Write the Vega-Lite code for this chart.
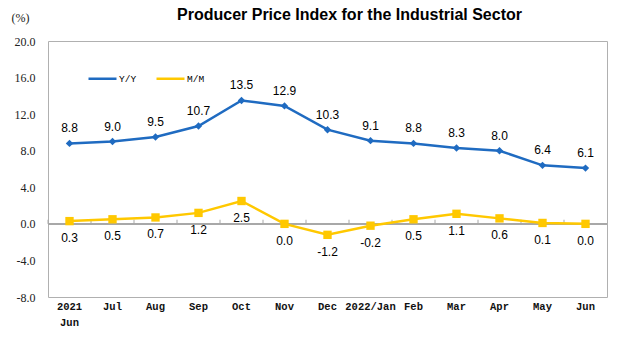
{
  "$schema": "https://vega.github.io/schema/vega-lite/v6.json",
  "width": 621,
  "height": 353,
  "autosize": {"type": "fit", "contains": "padding"},
  "padding": {"left": 11, "top": 7, "right": 13, "bottom": 25},
  "background": "white",
  "view": {"stroke": "#b0b0b0", "strokeWidth": 1},
  "title": {
    "text": "Producer Price Index for the Industrial Sector",
    "font": "Liberation Sans",
    "fontSize": 16,
    "fontWeight": "bold",
    "color": "#000000",
    "anchor": "middle",
    "dx": 22,
    "offset": -12
  },
  "config": {
    "locale": {"number": {"decimal": ".", "thousands": ",", "grouping": [3], "currency": ["$", ""], "minus": "-"}}
  },
  "data": {
    "values": [
      {"m": "2021|Jun", "s": "Y/Y", "v": 8.8}, {"m": "2021|Jun", "s": "M/M", "v": 0.3},
      {"m": "Jul", "s": "Y/Y", "v": 9.0}, {"m": "Jul", "s": "M/M", "v": 0.5},
      {"m": "Aug", "s": "Y/Y", "v": 9.5}, {"m": "Aug", "s": "M/M", "v": 0.7},
      {"m": "Sep", "s": "Y/Y", "v": 10.7}, {"m": "Sep", "s": "M/M", "v": 1.2},
      {"m": "Oct", "s": "Y/Y", "v": 13.5}, {"m": "Oct", "s": "M/M", "v": 2.5},
      {"m": "Nov", "s": "Y/Y", "v": 12.9}, {"m": "Nov", "s": "M/M", "v": 0.0},
      {"m": "Dec", "s": "Y/Y", "v": 10.3}, {"m": "Dec", "s": "M/M", "v": -1.2},
      {"m": "2022/Jan", "s": "Y/Y", "v": 9.1}, {"m": "2022/Jan", "s": "M/M", "v": -0.2},
      {"m": "Feb", "s": "Y/Y", "v": 8.8}, {"m": "Feb", "s": "M/M", "v": 0.5},
      {"m": "Mar", "s": "Y/Y", "v": 8.3}, {"m": "Mar", "s": "M/M", "v": 1.1},
      {"m": "Apr", "s": "Y/Y", "v": 8.0}, {"m": "Apr", "s": "M/M", "v": 0.6},
      {"m": "May", "s": "Y/Y", "v": 6.4}, {"m": "May", "s": "M/M", "v": 0.1},
      {"m": "Jun", "s": "Y/Y", "v": 6.1}, {"m": "Jun", "s": "M/M", "v": 0.0}
    ]
  },
  "encoding": {
    "x": {
      "field": "m", "type": "ordinal", "sort": null, "bandPosition": 0.5,
      "scale": {"type": "band", "paddingInner": 0, "paddingOuter": 0},
      "axis": {
        "orient": "bottom",
        "title": null,
        "labelAngle": 0,
        "labelExpr": "split(datum.label, '|')",
        "labelFont": "Liberation Mono",
        "labelFontSize": 10.5,
        "labelFontWeight": "bold",
        "labelColor": "#111111",
        "labelLineHeight": 16,
        "labelPadding": 4,
        "ticks": false,
        "domain": false
      }
    },
    "y": {
      "field": "v",
      "type": "quantitative",
      "scale": {"domain": [-8, 20], "nice": false, "zero": false},
      "axis": {
        "title": "(%)",
        "titleAngle": 0,
        "titleX": -28,
        "titleY": -24,
        "titleAlign": "center",
        "titleBaseline": "middle",
        "titleFont": "Liberation Serif",
        "titleFontSize": 12,
        "titleFontWeight": "normal",
        "titleColor": "#222222",
        "values": [-8, -4, 0, 4, 8, 12, 16, 20],
        "format": ".1f",
        "labelFont": "Liberation Serif",
        "labelFontSize": 12,
        "labelColor": "#222222",
        "labelPadding": 13,
        "tickSize": 0,
        "domain": false,
        "grid": false
      }
    }
  },
  "layer": [
    {
      "mark": {"type": "rule", "color": "#a8a8a8", "strokeWidth": 1},
      "encoding": {
        "x": null,
        "y": {"datum": 0, "type": "quantitative"}
      }
    },
    {
      "transform": [{"filter": "datum.s === 'Y/Y'"}],
      "mark": {"type": "rule", "color": "#a8a8a8", "strokeWidth": 1},
      "encoding": {
        "x": {"field": "m", "type": "ordinal", "sort": null, "bandPosition": 0},
        "y": {"datum": 0, "type": "quantitative"},
        "y2": {"datum": 0.45}
      }
    },
    {
      "mark": {"type": "line", "strokeWidth": 2.5},
      "encoding": {
        "color": {
          "field": "s", "type": "nominal",
          "scale": {"domain": ["Y/Y", "M/M"], "range": ["#1F6BC1", "#FFC800"]},
          "legend": {
            "title": null,
            "orient": "none",
            "legendX": 39,
            "legendY": 22,
            "direction": "horizontal",
            "symbolType": "stroke",
            "symbolSize": 784,
            "symbolStrokeWidth": 2.5,
            "labelFont": "Liberation Mono",
            "labelFontSize": 9.5,
            "labelColor": "#000000",
            "labelOffset": 1,
            "columnPadding": 14,
            "padding": 0
          }
        }
      }
    },
    {
      "transform": [{"filter": "datum.s === 'Y/Y'"}],
      "mark": {"type": "point", "shape": "diamond", "filled": true, "size": 55, "color": "#1F6BC1", "opacity": 1}
    },
    {
      "transform": [{"filter": "datum.s === 'M/M'"}],
      "mark": {"type": "point", "shape": "square", "filled": true, "size": 70, "color": "#FFC800", "opacity": 1}
    },
    {
      "transform": [{"filter": "datum.s === 'Y/Y'"}],
      "mark": {"type": "text", "dy": -15, "font": "Liberation Sans", "fontSize": 12, "color": "#000000"},
      "encoding": {
        "text": {"field": "v", "type": "quantitative", "format": ".1f"}
      }
    },
    {
      "transform": [{"filter": "datum.s === 'M/M'"}],
      "mark": {"type": "text", "dy": 17, "font": "Liberation Sans", "fontSize": 12, "color": "#000000"},
      "encoding": {
        "text": {"field": "v", "type": "quantitative", "format": ".1f"}
      }
    }
  ]
}
